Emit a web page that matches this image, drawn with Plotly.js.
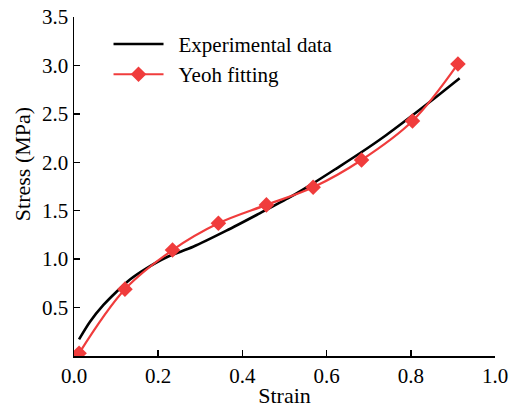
<!DOCTYPE html>
<html>
<head>
<meta charset="utf-8">
<script src="https://cdn.plot.ly/plotly-3.0.1.min.js"></script>
<style>html,body{margin:0;padding:0;background:#fff;}#chart{width:510px;height:408px;}</style>
</head>
<body>
<div id="chart"></div>
<script>
var expStrain = [0.012, 0.038, 0.070, 0.101, 0.133, 0.172, 0.220, 0.283, 0.362, 0.441, 0.513, 0.568, 0.624, 0.679, 0.742, 0.805, 0.861, 0.916];
var expStress = [0.172, 0.354, 0.527, 0.664, 0.790, 0.905, 1.020, 1.128, 1.294, 1.473, 1.640, 1.783, 1.938, 2.093, 2.282, 2.488, 2.677, 2.867];
var fitStrain = [0.012, 0.121, 0.234, 0.343, 0.457, 0.568, 0.683, 0.804, 0.912];
var fitStress = [0.028, 0.69, 1.094, 1.37, 1.56, 1.742, 2.024, 2.426, 3.015];
var xTicks = [0, 0.2, 0.4, 0.6, 0.8, 1.0];
var yTicks = [0.5, 1.0, 1.5, 2.0, 2.5, 3.0, 3.5];

var font = 'Liberation Serif, Times New Roman, serif';
var traces = [
  {x: expStrain, y: expStress, mode: 'lines', name: 'Experimental data',
   line: {color: '#000000', width: 2.6, shape: 'spline', smoothing: 0.8}},
  {x: fitStrain, y: fitStress, mode: 'lines+markers', name: 'Yeoh fitting',
   line: {color: '#f03c3c', width: 2.2, shape: 'spline'},
   marker: {symbol: 'diamond', size: 12, color: '#f03c3c'}}
];
var layout = {
  width: 510, height: 408,
  margin: {l: 74, r: 15, t: 17, b: 52},
  paper_bgcolor: '#fff', plot_bgcolor: '#fff',
  font: {family: font, size: 21, color: '#000'},
  showlegend: true,
  legend: {x: 0.082, y: 0.98, xanchor: 'left', yanchor: 'top', bgcolor: 'rgba(0,0,0,0)',
           font: {family: font, size: 21, color: '#000'}, tracegroupgap: 0, itemwidth: 60},
  xaxis: {range: [0, 1.0], tickvals: xTicks, tickformat: '.1f', ticks: 'inside', ticklen: 6,
          tickwidth: 1.5, tickcolor: '#000', showline: true, linecolor: '#000', linewidth: 1.5,
          showgrid: false, zeroline: false, title: {text: 'Strain', standoff: 2, font: {family: font, size: 22}}},
  yaxis: {range: [0, 3.5], tickvals: yTicks, tickformat: '.1f', ticks: 'inside', ticklen: 6,
          tickwidth: 1.5, tickcolor: '#000', showline: true, linecolor: '#000', linewidth: 1.5,
          showgrid: false, zeroline: false},
  annotations: [{text: 'Stress (MPa)', xref: 'paper', yref: 'paper', x: -0.1235, y: 0.566,
                 xanchor: 'center', yanchor: 'middle', textangle: -90, showarrow: false,
                 font: {family: font, size: 22, color: '#000'}}]
};
Plotly.newPlot('chart', traces, layout, {displayModeBar: false, staticPlot: true}).then(function (gd) {
  // lengthen legend sample lines to match the reference (50px) and centre the marker
  gd.querySelectorAll('.legend .legendlines path').forEach(function (p) { p.setAttribute('d', 'M5,0h50'); });
  gd.querySelectorAll('.legend .legendpoints path').forEach(function (p) { p.setAttribute('transform', 'translate(30,0)'); });
  gd.querySelectorAll('.legend text.legendtext').forEach(function (t) { t.setAttribute('x', '70'); });
});
</script>
</body>
</html>
